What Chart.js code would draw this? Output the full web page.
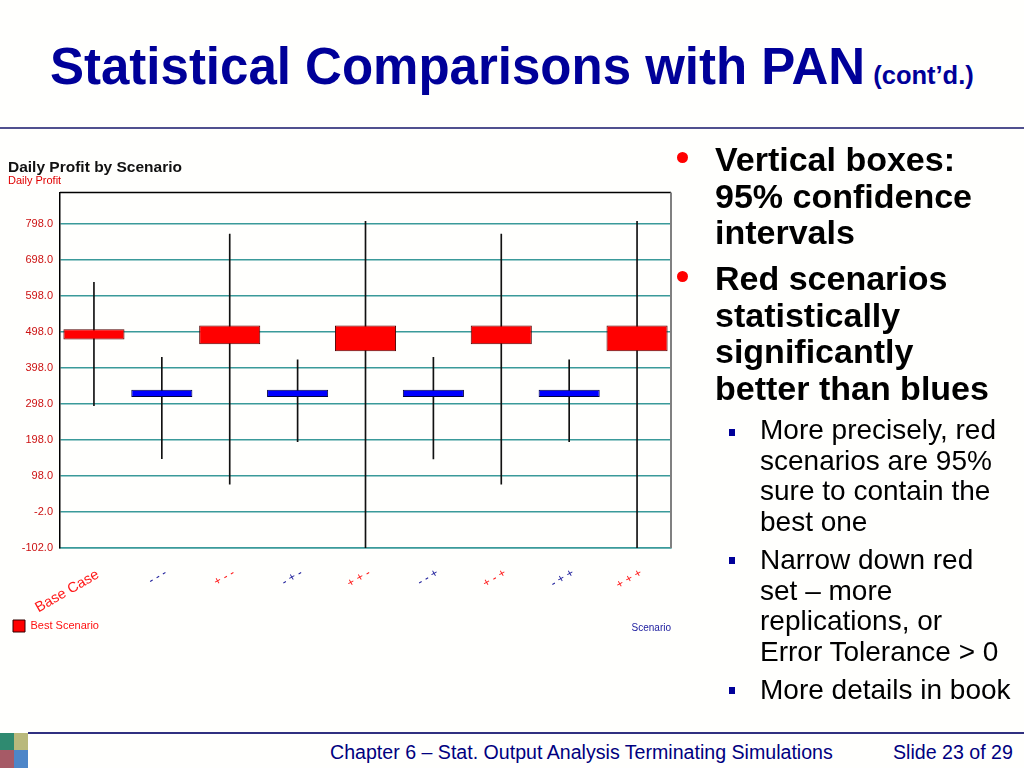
<!DOCTYPE html>
<html><head><meta charset="utf-8">
<script src="https://cdn.jsdelivr.net/npm/chart.js@4.4.0/dist/chart.umd.min.js"></script>
<style>
html,body{margin:0;padding:0;background:#fff;}
#slide{position:relative;width:1024px;height:768px;overflow:hidden;font-family:'Liberation Sans',Arial,sans-serif;background:#fffffd;}
.title{position:absolute;left:50px;top:42px;line-height:50px;font-size:51px;font-weight:bold;color:#000099;white-space:nowrap;}
.title span{font-size:25.5px;margin-left:8px;}
.rule{position:absolute;left:0;top:127px;width:1024px;height:2px;background:#50508f;}
#chartBox{position:absolute;left:0;top:150px;width:680px;height:492px;}
.b1{position:absolute;left:715px;font-size:34px;font-weight:bold;line-height:36.7px;color:#000;white-space:nowrap;}
.dot{position:absolute;width:11px;height:11px;border-radius:50%;background:#f00;left:677px;}
.b2{position:absolute;left:760px;font-size:28px;line-height:30.5px;color:#000;white-space:nowrap;}
.sq{position:absolute;left:729px;width:6px;height:7px;background:#000099;}
.fline{position:absolute;left:28px;top:732px;width:996px;height:2px;background:#303080;}
.ftxt{position:absolute;top:742px;font-size:19.6px;line-height:20px;color:#000080;white-space:nowrap;}
.logo{position:absolute;left:0;top:733px;width:28px;height:35px;}
.logo div{position:absolute;}
</style>
</head>
<body>
<div id="slide">
  <div class="title">Statistical Comparisons with PAN<span>(cont’d.)</span></div>
  <div class="rule"></div>

  <div id="chartBox"><canvas id="c"></canvas></div>

  <div class="dot" style="top:152px"></div>
  <div class="b1" style="top:141px">Vertical boxes:<br>95% confidence<br>intervals</div>
  <div class="dot" style="top:271px"></div>
  <div class="b1" style="top:260px">Red scenarios<br>statistically<br>significantly<br>better than blues</div>

  <div class="sq" style="top:429px"></div>
  <div class="b2" style="top:415px">More precisely, red<br>scenarios are 95%<br>sure to contain the<br>best one</div>
  <div class="sq" style="top:557px"></div>
  <div class="b2" style="top:545px">Narrow down red<br>set – more<br>replications, or<br>Error Tolerance &gt; 0</div>
  <div class="sq" style="top:687px"></div>
  <div class="b2" style="top:675px">More details in book</div>

  <div class="logo">
    <div style="left:0;top:0;width:14px;height:17px;background:#2f8a70"></div>
    <div style="left:14px;top:0;width:14px;height:17px;background:#b9b97c"></div>
    <div style="left:0;top:17px;width:14px;height:18px;background:#a65a66"></div>
    <div style="left:14px;top:17px;width:14px;height:18px;background:#4d86c8"></div>
  </div>
  <div class="fline"></div>
  <div class="ftxt" style="left:330px">Chapter 6 – Stat. Output Analysis Terminating Simulations</div>
  <div class="ftxt" style="left:893px">Slide 23 of 29</div>
</div>

<script>
// ---- data ----
const scenarios = ['Base Case','- - -','+ - -','- + -','+ + -','- - +','+ - +','- + +','+ + +'];
const ciLow     = [476, 317, 463, 317, 444, 317, 463, 317, 444];
const ciHigh    = [505, 337, 515, 337, 515, 337, 515, 337, 515];
const rangeLow  = [293, 146,  75, 193, -104, 145,  75, 193, -104];
const rangeHigh = [635, 427, 769, 420, 804, 427, 769, 420, 804];
const isBest    = [true, false, true, false, true, false, true, false, true];
const yTicks    = [-102, -2, 98, 198, 298, 398, 498, 598, 698, 798];
const yMin = -102, yMax = 884;

Chart.defaults.font.family = "'Liberation Sans', Arial, sans-serif";

const RED = '#ff0000', BLUE = '#0000ff';
const GRID = '#3a9a9a';

const framePlugin = {
  id: 'frame',
  afterDatasetsDraw(chart) {
    const {ctx, chartArea: a} = chart;
    ctx.save();
    ctx.strokeStyle = '#000'; ctx.lineWidth = 1.5;
    ctx.beginPath(); ctx.moveTo(a.left, a.top); ctx.lineTo(a.right, a.top); ctx.stroke();
    ctx.strokeStyle = '#808080'; ctx.lineWidth = 2;
    ctx.beginPath(); ctx.moveTo(a.right, a.top); ctx.lineTo(a.right, a.bottom); ctx.stroke();
    ctx.restore();
  }
};

new Chart(document.getElementById('c'), {
  type: 'bar',
  data: {
    labels: scenarios,
    datasets: [
      {
        label: 'Best Scenario',
        data: scenarios.map((_, i) => [ciLow[i], ciHigh[i]]),
        backgroundColor: isBest.map(b => b ? RED : BLUE),
        borderColor: isBest.map(b => b ? '#500000' : '#000040'),
        borderWidth: 1,
        borderSkipped: false,
        barPercentage: 0.9,
        categoryPercentage: 1,
        grouped: false,
        order: 1
      },
      {
        label: 'Range',
        data: scenarios.map((_, i) => [rangeLow[i], rangeHigh[i]]),
        backgroundColor: '#111',
        barThickness: 1,
        grouped: false,
        order: 2
      }
    ]
  },
  options: {
    responsive: true,
    maintainAspectRatio: false,
    animation: false,
    events: [],
    layout: {padding: {left: 8, right: 9, top: 0, bottom: 0}},
    scales: {
      x: {
        offset: true,
        grid: {display: false, drawTicks: false},
        border: {display: true, color: GRID, width: 1.5},
        ticks: {
          autoSkip: false, minRotation: 30, maxRotation: 30, padding: 18, labelOffset: 4,
          color: ctx => (isBest[ctx.index] ? '#ff1a1a' : '#1a1a99'),
          font: ctx => ({size: ctx.index === 0 ? 14.5 : 12})
        },
        title: {display: true, text: 'Scenario', align: 'end', color: '#2020a0',
                font: {size: 10}, padding: {top: 0, bottom: -19}},
        afterFit(s) { s.height = 67; }
      },
      y: {
        min: yMin, max: yMax,
        afterBuildTicks(s) { s.ticks = yTicks.map(v => ({value: v})); },
        grid: {color: GRID, lineWidth: 1.5, drawTicks: false},
        border: {color: '#000', width: 1.5},
        ticks: {color: '#cc1111', font: {size: 11}, padding: 7, callback: v => Number(v).toFixed(1)},
        afterFit(s) { s.width = 52; }
      }
    },
    plugins: {
      title: {display: true, text: 'Daily Profit by Scenario', align: 'start', color: '#111',
              font: {size: 15.5, weight: 'bold', lineHeight: 1}, padding: {top: 10, bottom: 0}},
      subtitle: {display: true, text: 'Daily Profit', align: 'start', color: '#e00000',
                 font: {size: 11, lineHeight: 1}, padding: {top: 0, bottom: 6}},
      legend: {
        position: 'bottom', align: 'start',
        labels: {
          boxWidth: 12, boxHeight: 12, padding: 5, font: {size: 11}, color: '#ff1010',
          generateLabels: () => [{text: 'Best Scenario', fillStyle: RED, strokeStyle: '#300000',
                                  lineWidth: 1, fontColor: '#ff1010', hidden: false, datasetIndex: 0}]
        }
      },
      tooltip: {enabled: false}
    }
  },
  plugins: [framePlugin]
});
</script>
</body></html>
